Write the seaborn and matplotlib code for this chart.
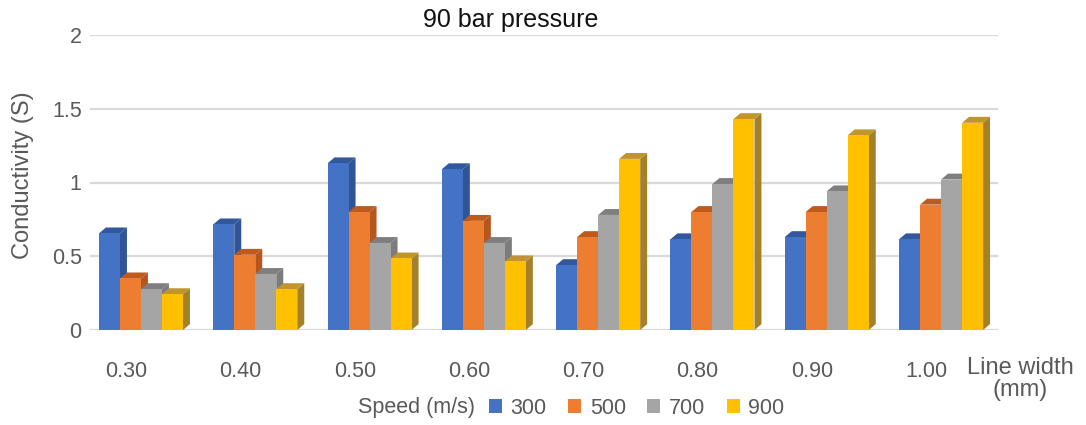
import matplotlib
matplotlib.use("Agg")
import matplotlib.pyplot as plt
import seaborn as sns
import pandas as pd
import numpy as np
from matplotlib.patches import Polygon, Patch

# ---- data ----
line_widths = ["0.30", "0.40", "0.50", "0.60", "0.70", "0.80", "0.90", "1.00"]
speeds = ["300", "500", "700", "900"]
v300 = [0.655, 0.716, 1.13, 1.09, 0.44, 0.615, 0.63, 0.615]
v500 = [0.35, 0.51, 0.80, 0.74, 0.63, 0.80, 0.80, 0.85]
v700 = [0.277, 0.38, 0.59, 0.59, 0.78, 0.99, 0.94, 1.02]
v900 = [0.243, 0.277, 0.485, 0.465, 1.16, 1.43, 1.32, 1.405]
y_ticks = [0, 0.5, 1, 1.5, 2]
y_tick_labels = ["0", "0.5", "1", "1.5", "2"]

front_colors = ["#4472C4", "#ED7D31", "#A5A5A5", "#FFC000"]
side_colors = ["#2F5597", "#B6561E", "#7C7C7C", "#A5802A"]
top_colors = ["#31589C", "#BE5A1E", "#7F7F7F", "#C0952B"]

sns.set_theme(style="white")
plt.rcParams['font.family'] = ['Liberation Sans', 'DejaVu Sans']

df = pd.DataFrame({
    "width": line_widths * 4,
    "speed": [s for s in speeds for _ in line_widths],
    "value": v300 + v500 + v700 + v900,
})

W, H = 1086, 425
fig = plt.figure(figsize=(W / 100, H / 100), dpi=100)
ax = fig.add_axes([90 / W, (H - 330) / H, 908 / W, 295 / H])

sns.barplot(data=df, x="width", y="value", hue="speed", order=line_widths,
            hue_order=speeds, palette=front_colors, width=0.735, saturation=1,
            legend=False, errorbar=None, linewidth=0, ax=ax)

dx, dy = 0.061, 0.04
for i, cont in enumerate(ax.containers):
    for bar in cont:
        x0 = bar.get_x(); w = bar.get_width(); h = bar.get_height()
        bar.set_zorder(2.05 + i * 0.1)
        side = Polygon([(x0 + w, 0), (x0 + w + dx, dy), (x0 + w + dx, h + dy), (x0 + w, h)],
                       closed=True, facecolor=side_colors[i], edgecolor='none', zorder=2 + i * 0.1)
        top = Polygon([(x0, h), (x0 + dx, h + dy), (x0 + w + dx, h + dy), (x0 + w, h)],
                      closed=True, facecolor=top_colors[i], edgecolor='none', zorder=2 + i * 0.1)
        ax.add_patch(side)
        ax.add_patch(top)

ax.set_ylim(0, 2)
ax.set_yticks(y_ticks)
ax.set_yticklabels(y_tick_labels)
ax.set_xticks(np.arange(len(line_widths)) - 0.13)
ax.set_xticklabels(line_widths)
ax.set_xlim(-0.446, 7.498)
ax.set_xlabel("")
ax.set_ylabel("")
ax.grid(axis='y', color='#d9d9d9', lw=1.6)
ax.set_axisbelow(True)
sns.despine(ax=ax, left=True, bottom=True)
ax.tick_params(axis='x', length=0, pad=22, labelsize=15.5, labelcolor='#595959')
ax.tick_params(axis='y', length=0, pad=6, labelsize=15.5, labelcolor='#595959')

fig.text(511 / W, 1 - 20 / H, "90 bar pressure", ha='center', va='center', fontsize=18, color='#111111')
fig.text(23 / W, 1 - 175 / H, "Conductivity (S)", ha='center', va='center', rotation=90,
         fontsize=17, color='#595959')
fig.text(1020 / W, 1 - 379 / H, "Line width\n(mm)", ha='center', va='center', fontsize=17,
         color='#595959', linespacing=0.95)

fig.text(475 / W, 1 - 408 / H, "Speed (m/s)", ha='right', va='center', fontsize=15.5, color='#595959')
handles = [Patch(facecolor=c, edgecolor='none') for c in front_colors]
fig.legend(handles, speeds, loc='center left', bbox_to_anchor=(489 / W, 1 - 408 / H), ncol=4,
           frameon=False, fontsize=15.5, handlelength=0.6, handleheight=0.6, handletextpad=0.4,
           columnspacing=1.0, labelcolor='#595959', borderaxespad=0, borderpad=0)

fig.savefig("out.png", dpi=100)
